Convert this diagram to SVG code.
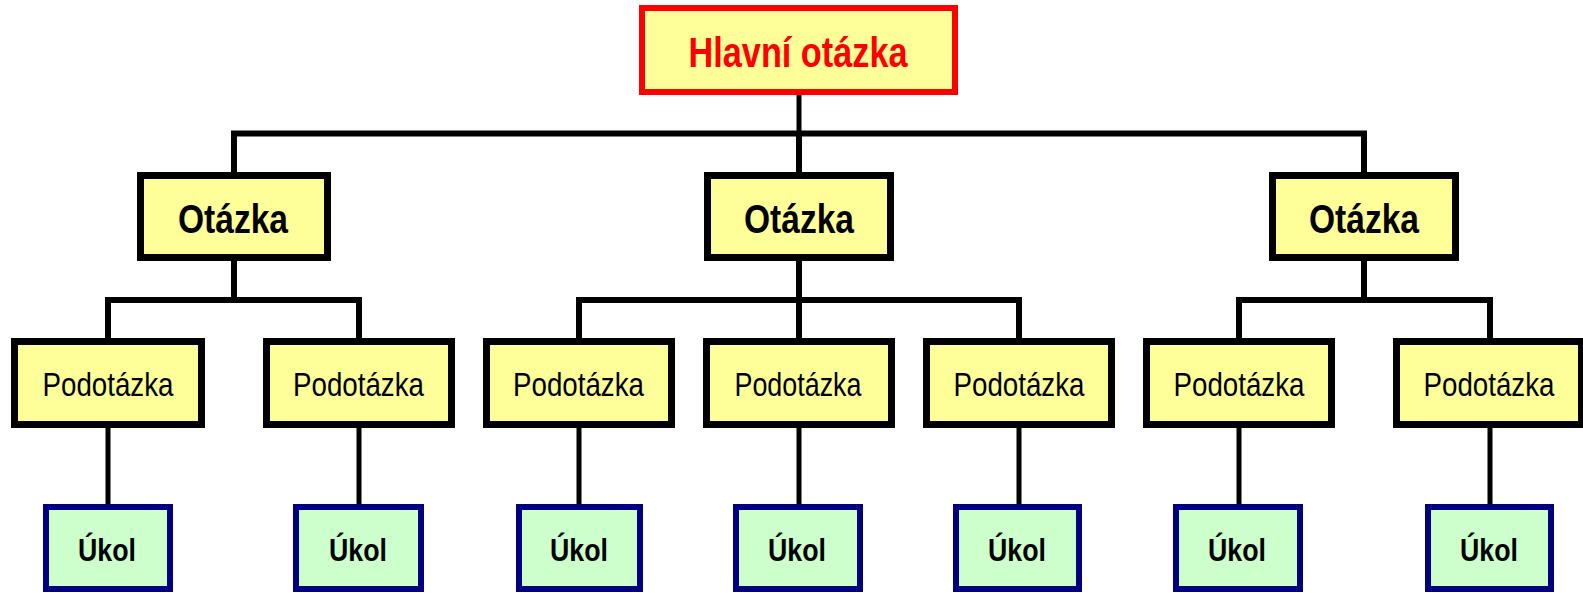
<svg xmlns="http://www.w3.org/2000/svg" width="1583" height="593" viewBox="0 0 1583 593">
<style>
.ln{fill:none;stroke:#000;stroke-width:6;stroke-linejoin:miter;stroke-linecap:butt}
.thin{stroke-width:5}
.main{fill:#FFFF99;stroke:#FF0000;stroke-width:6}
.q{fill:#FFFF99;stroke:#000;stroke-width:7}
.sq{fill:#FFFF99;stroke:#000;stroke-width:7}
.task{fill:#CCFFCC;stroke:#000080;stroke-width:6}
text{font-family:"Liberation Sans",Arial,sans-serif;text-anchor:middle}
.tm{font-size:43px;font-weight:bold;fill:#FF0000}
.tq{font-size:40px;font-weight:bold;fill:#000}
.ts{font-size:33px;fill:#000}
.tt{font-size:32px;font-weight:bold;fill:#000}
</style>
<rect width="1583" height="593" fill="#fff"/>
<g id="connectors">
<path class="ln thin" d="M799 95V134"/>
<path class="ln" d="M234 172V133.5H1364V172M799 133.5V172"/>
<path class="ln" d="M234 261V300M108 338V300H359V338"/>
<path class="ln" d="M799 261V338M579 338V300H1019V338"/>
<path class="ln" d="M1364 261V300M1239 338V300H1490V338"/>
<path class="ln thin" d="M108 428V504M359 428V504M579 428V504M799 428V504M1019 428V504M1239 428V504M1490 428V504"/>
</g>
<g id="main"><rect class="main" x="642" y="8" width="313" height="84"/><text class="tm" x="798" y="67" textLength="219" lengthAdjust="spacingAndGlyphs">Hlavní otázka</text></g>
<g id="q1"><rect class="q" x="140.5" y="175.5" width="187" height="82"/><text class="tq" x="233" y="233" textLength="110" lengthAdjust="spacingAndGlyphs">Otázka</text></g>
<g id="q2"><rect class="q" x="707.5" y="175.5" width="183" height="82"/><text class="tq" x="799" y="233" textLength="110" lengthAdjust="spacingAndGlyphs">Otázka</text></g>
<g id="q3"><rect class="q" x="1272.5" y="175.5" width="183" height="82"/><text class="tq" x="1364" y="233" textLength="110" lengthAdjust="spacingAndGlyphs">Otázka</text></g>
<g id="s1"><rect class="sq" x="14.5" y="341.5" width="187" height="83"/><text class="ts" x="108" y="396" textLength="131" lengthAdjust="spacingAndGlyphs">Podotázka</text></g>
<g id="s2"><rect class="sq" x="266.5" y="341.5" width="185" height="83"/><text class="ts" x="358.5" y="396" textLength="131" lengthAdjust="spacingAndGlyphs">Podotázka</text></g>
<g id="s3"><rect class="sq" x="486.5" y="341.5" width="185" height="83"/><text class="ts" x="578.5" y="396" textLength="131" lengthAdjust="spacingAndGlyphs">Podotázka</text></g>
<g id="s4"><rect class="sq" x="706.5" y="341.5" width="185" height="83"/><text class="ts" x="798" y="396" textLength="127" lengthAdjust="spacingAndGlyphs">Podotázka</text></g>
<g id="s5"><rect class="sq" x="926.5" y="341.5" width="185" height="83"/><text class="ts" x="1019" y="396" textLength="131" lengthAdjust="spacingAndGlyphs">Podotázka</text></g>
<g id="s6"><rect class="sq" x="1146.5" y="341.5" width="185" height="83"/><text class="ts" x="1239" y="396" textLength="131" lengthAdjust="spacingAndGlyphs">Podotázka</text></g>
<g id="s7"><rect class="sq" x="1396.5" y="341.5" width="185" height="83"/><text class="ts" x="1489" y="396" textLength="131" lengthAdjust="spacingAndGlyphs">Podotázka</text></g>
<g id="t1"><rect class="task" x="46" y="507" width="124" height="82"/><text class="tt" x="107" y="561" textLength="58" lengthAdjust="spacingAndGlyphs">Úkol</text></g>
<g id="t2"><rect class="task" x="296" y="507" width="125" height="82"/><text class="tt" x="358" y="561" textLength="58" lengthAdjust="spacingAndGlyphs">Úkol</text></g>
<g id="t3"><rect class="task" x="519" y="507" width="121" height="82"/><text class="tt" x="579" y="561" textLength="58" lengthAdjust="spacingAndGlyphs">Úkol</text></g>
<g id="t4"><rect class="task" x="736" y="507" width="124" height="82"/><text class="tt" x="797" y="561" textLength="58" lengthAdjust="spacingAndGlyphs">Úkol</text></g>
<g id="t5"><rect class="task" x="956" y="507" width="123" height="82"/><text class="tt" x="1017" y="561" textLength="58" lengthAdjust="spacingAndGlyphs">Úkol</text></g>
<g id="t6"><rect class="task" x="1176" y="507" width="124" height="82"/><text class="tt" x="1237" y="561" textLength="58" lengthAdjust="spacingAndGlyphs">Úkol</text></g>
<g id="t7"><rect class="task" x="1428" y="507" width="123" height="82"/><text class="tt" x="1489" y="561" textLength="58" lengthAdjust="spacingAndGlyphs">Úkol</text></g>
</svg>
